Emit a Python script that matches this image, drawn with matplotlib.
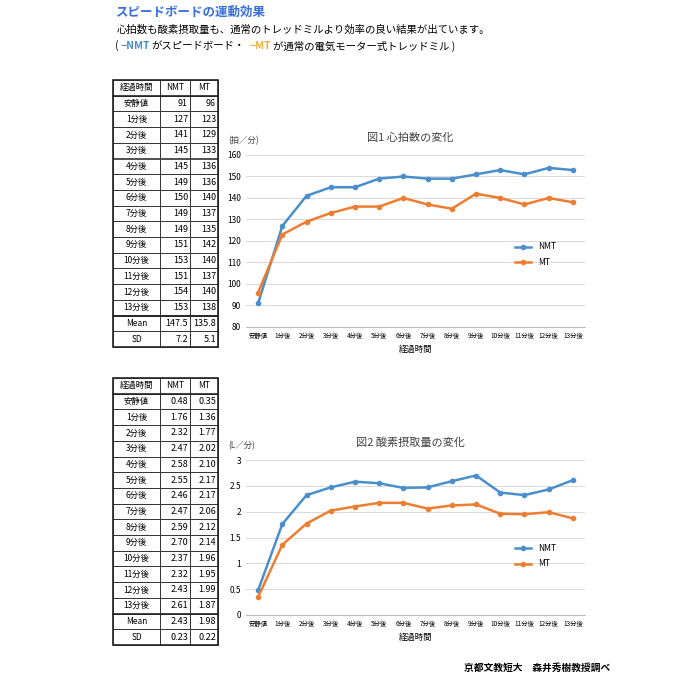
import matplotlib.pyplot as plt
import numpy as np
from matplotlib.patches import Rectangle
from matplotlib.ticker import FormatStrFormatter

plt.rcParams['font.family'] = ['Noto Sans CJK JP', 'DejaVu Sans']

labels = ["安静値", "1分後", "2分後", "3分後", "4分後", "5分後", "6分後", "7分後",
          "8分後", "9分後", "10分後", "11分後", "12分後", "13分後"]
hr_nmt = [91, 127, 141, 145, 145, 149, 150, 149, 149, 151, 153, 151, 154, 153]
hr_mt = [96, 123, 129, 133, 136, 136, 140, 137, 135, 142, 140, 137, 140, 138]
hr_stats = [("Mean", "147.5", "135.8"), ("SD", "7.2", "5.1")]
vo_nmt = [0.48, 1.76, 2.32, 2.47, 2.58, 2.55, 2.46, 2.47, 2.59, 2.70, 2.37, 2.32, 2.43, 2.61]
vo_mt = [0.35, 1.36, 1.77, 2.02, 2.10, 2.17, 2.17, 2.06, 2.12, 2.14, 1.96, 1.95, 1.99, 1.87]
vo_stats = [("Mean", "2.43", "1.98"), ("SD", "0.23", "0.22")]

c_nmt = "#4A8FCB"
c_mt = "#ED7D31"

fig = plt.figure(figsize=(7, 7), dpi=100)
bg = fig.add_axes([0, 0, 1, 1])
bg.set_xlim(0, 700)
bg.set_ylim(700, 0)
bg.axis("off")

# header
bg.text(115, 12, "スピードボードの運動効果", color="#3A6FD8", fontsize=9, fontweight="bold", va="center")
bg.text(117, 30, "心拍数も酸素摂取量も、通常のトレッドミルより効率の良い結果が出ています。", fontsize=7.5, va="center")
bg.text(115, 46, "(", fontsize=7.5, va="center")
bg.text(121, 46, "−NMT", color=c_nmt, fontsize=7.5, va="center", fontweight="bold")
bg.text(151, 46, "がスピードボード・", fontsize=7.5, va="center")
bg.text(250, 46, "−MT", color="#F0B040", fontsize=7.5, va="center", fontweight="bold")
bg.text(273, 46, "が通常の電気モーター式トレッドミル )", fontsize=7.5, va="center")


def draw_table(top, nmt, mt, stats, fmt):
    xs = [113, 160, 190, 218]
    rows = [("経過時間", "NMT", "MT")]
    rows += [(l, fmt(a), fmt(b)) for l, a, b in zip(labels, nmt, mt)]
    rows += stats
    h = 15.7
    for i, r in enumerate(rows):
        y = top + i * h
        for j in range(3):
            bg.add_patch(Rectangle((xs[j], y), xs[j + 1] - xs[j], h, fill=False, lw=0.6, ec="#333333"))
            if j == 0 or i == 0:
                bg.text((xs[j] + xs[j + 1]) / 2, y + h / 2, r[j], ha="center", va="center", fontsize=6)
            else:
                bg.text(xs[j + 1] - 2, y + h / 2, r[j], ha="right", va="center", fontsize=6.5)
    bg.add_patch(Rectangle((xs[0], top), xs[3] - xs[0], h * len(rows), fill=False, lw=1.2, ec="#222222"))
    bg.plot([xs[0], xs[3]], [top + h, top + h], color="#222222", lw=1.2)
    bg.plot([xs[0], xs[3]], [top + 15 * h, top + 15 * h], color="#222222", lw=1.2)


draw_table(80, hr_nmt, hr_mt, hr_stats, str)
draw_table(378, vo_nmt, vo_mt, vo_stats, lambda v: f"{v:.2f}")


def draw_chart(rect, nmt, mt, ylim, step, title, unit, leg_y):
    l, t, r, b = rect
    ax = fig.add_axes([l / 700, 1 - b / 700, (r - l) / 700, (b - t) / 700])
    x = range(len(labels))
    ax.plot(x, nmt, color=c_nmt, marker="o", ms=3, lw=1.8, label="NMT")
    ax.plot(x, mt, color=c_mt, marker="o", ms=3, lw=1.8, label="MT")
    ax.set_xlim(-0.5, len(labels) - 0.5)
    ax.set_ylim(*ylim)
    ax.set_yticks(np.arange(ylim[0], ylim[1] + step / 2, step))
    ax.yaxis.set_major_formatter(FormatStrFormatter("%g"))
    ax.set_xticks(list(x))
    ax.set_xticklabels(labels, fontsize=4.6)
    ax.tick_params(axis="y", labelsize=6, length=0)
    ax.tick_params(axis="x", length=0)
    ax.grid(axis="y", color="#D9D9D9", lw=0.7)
    for s in ["top", "right", "left"]:
        ax.spines[s].set_visible(False)
    ax.spines["bottom"].set_color("#BFBFBF")
    ax.set_axisbelow(True)
    ax.set_xlabel("経過時間", fontsize=6)
    bg.text((l + r) / 2 - 5, t - 17, title, fontsize=8, ha="center", va="center", color="#404040")
    bg.text(l - 18, t - 14, unit, fontsize=6, va="center", color="#404040")
    ax.legend(loc="center left", bbox_to_anchor=(0.77, leg_y), frameon=False, fontsize=6,
              handlelength=2, labelspacing=0.8)


draw_chart((246, 155, 585, 327), hr_nmt, hr_mt, (80, 160), 10, "図1 心拍数の変化", "(拍／分)", 0.42)
draw_chart((246, 460, 585, 615), vo_nmt, vo_mt, (0, 3), 0.5, "図2 酸素摂取量の変化", "(L／分)", 0.38)

bg.text(610, 668, "京都文教短大　森井秀樹教授調べ", fontsize=7, ha="right", va="center", fontweight="bold")

fig.savefig("out.png", dpi=100)
